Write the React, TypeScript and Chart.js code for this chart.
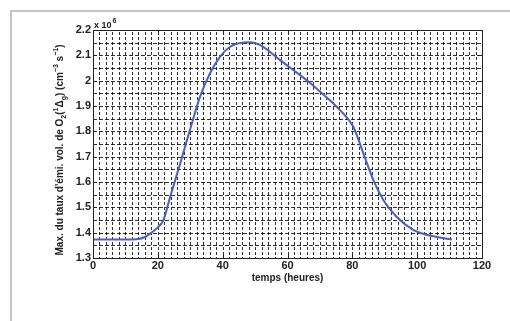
import React, { useEffect, useRef } from "react";
import { Chart, registerables } from "chart.js";

Chart.register(...registerables);

// time in hours
const times = [0, 5, 10, 14, 16, 17.6, 19.5, 21.7, 23.8, 26.9, 29.9, 33.0, 36.1, 39.2, 42.3, 46.4, 48.5, 51.5, 57.7, 61.8, 66.5, 70.1, 76.2, 80.3, 83.4, 86.5, 89.6, 93.7, 98.9, 102.5, 106.1, 110.7];
// max emission rate (x 10^6 cm^-3 s^-1)
const emission = [1.373, 1.373, 1.373, 1.375, 1.383, 1.396, 1.415, 1.449, 1.541, 1.673, 1.805, 1.936, 2.029, 2.095, 2.134, 2.151, 2.152, 2.141, 2.081, 2.042, 1.996, 1.956, 1.884, 1.818, 1.713, 1.607, 1.528, 1.462, 1.41, 1.393, 1.383, 1.373];

const xTickValues = [0, 20, 40, 60, 80, 100, 120];
const yTickValues = [1.3, 1.4, 1.5, 1.6, 1.7, 1.8, 1.9, 2.0, 2.1, 2.2];

const xTitle = "temps (heures)";
const yTitleParts: [string, string][] = [
  ["Max. du taux d'émi. vol. de O", "n"],
  ["2", "sub"],
  ["(", "n"],
  ["1", "sup"],
  ["Δ", "n"],
  ["g", "sub"],
  [") (cm", "n"],
  ["−3", "sup"],
  [" s", "n"],
  ["−1", "sup"],
  [")", "n"],
];

const FONT = "'Liberation Sans', Arial, sans-serif";

const decorPlugin = {
  id: "decor",
  beforeDatasetsDraw(chart: any) {
    const { ctx, chartArea: a, scales } = chart;
    const xs = scales.x;
    const ys = scales.y;
    ctx.save();
    ctx.beginPath();
    ctx.rect(a.left, a.top, a.right - a.left, a.bottom - a.top);
    ctx.clip();
    ctx.lineWidth = 1;
    ctx.strokeStyle = "rgba(10,10,10,0.85)";
    // vertical minor grid (every 2 h)
    ctx.setLineDash([3, 2]);
    for (let t = 2; t < 120; t += 2) {
      const px = Math.round(xs.getPixelForValue(t)) + 0.5;
      ctx.beginPath();
      ctx.moveTo(px, a.top + 2);
      ctx.lineTo(px, a.bottom);
      ctx.stroke();
    }
    // horizontal grid (every 0.05)
    ctx.setLineDash([4, 2]);
    for (let k = 1; k < 18; k++) {
      const v = 1.3 + k * 0.05;
      const py = Math.round(ys.getPixelForValue(v)) + 0.5;
      ctx.beginPath();
      ctx.moveTo(a.left, py);
      ctx.lineTo(a.right, py);
      ctx.stroke();
    }
    ctx.restore();
  },
  afterDatasetsDraw(chart: any) {
    const { ctx, chartArea: a, scales } = chart;
    const xs = scales.x;
    const ys = scales.y;
    ctx.save();
    ctx.setLineDash([]);
    ctx.strokeStyle = "#222";
    ctx.lineWidth = 1;
    ctx.strokeRect(Math.round(a.left) + 0.5, Math.round(a.top) + 0.5, Math.round(a.right - a.left), Math.round(a.bottom - a.top));
    // inside ticks
    const tl = 4;
    xTickValues.forEach((t) => {
      const px = Math.round(xs.getPixelForValue(t)) + 0.5;
      ctx.beginPath();
      ctx.moveTo(px, a.bottom);
      ctx.lineTo(px, a.bottom - tl);
      ctx.moveTo(px, a.top);
      ctx.lineTo(px, a.top + tl);
      ctx.stroke();
    });
    yTickValues.forEach((v) => {
      const py = Math.round(ys.getPixelForValue(v)) + 0.5;
      ctx.beginPath();
      ctx.moveTo(a.left, py);
      ctx.lineTo(a.left + tl, py);
      ctx.moveTo(a.right, py);
      ctx.lineTo(a.right - tl, py);
      ctx.stroke();
    });
    // exponent label
    ctx.fillStyle = "#222";
    ctx.textBaseline = "alphabetic";
    ctx.textAlign = "left";
    ctx.font = `bold 9px ${FONT}`;
    ctx.fillText("x 10", a.left + 1, a.top - 2);
    const w = ctx.measureText("x 10").width;
    ctx.font = `bold 7px ${FONT}`;
    ctx.fillText("6", a.left + 1 + w + 1, a.top - 7);
    // x title
    ctx.font = `bold 10px ${FONT}`;
    ctx.textAlign = "center";
    ctx.fillText(xTitle, (a.left + a.right) / 2, a.bottom + 23);
    // y title (rotated, with sub/superscripts)
    const big = `bold 10px ${FONT}`;
    const small = `bold 7px ${FONT}`;
    let total = 0;
    yTitleParts.forEach(([s, k]) => {
      ctx.font = k === "n" ? big : small;
      total += ctx.measureText(s).width;
    });
    ctx.translate(63, (a.top + a.bottom) / 2 + 6);
    ctx.rotate(-Math.PI / 2);
    ctx.textAlign = "left";
    let x = -total / 2;
    yTitleParts.forEach(([s, k]) => {
      ctx.font = k === "n" ? big : small;
      const dy = k === "sub" ? 3 : k === "sup" ? -5 : 0;
      ctx.fillText(s, x, dy);
      x += ctx.measureText(s).width;
    });
    ctx.restore();
  },
};

export default function App() {
  const ref = useRef<HTMLCanvasElement | null>(null);
  useEffect(() => {
    if (!ref.current) return;
    const chart = new Chart(ref.current, {
      type: "line",
      data: {
        datasets: [
          {
            data: times.map((t, i) => ({ x: t, y: emission[i] })),
            borderColor: "#4a60c2",
            borderWidth: 2,
            pointRadius: 0,
            fill: false,
            tension: 0.4,
            cubicInterpolationMode: "monotone",
          },
        ],
      },
      options: {
        animation: false,
        responsive: false,
        devicePixelRatio: 1,
        layout: { padding: { top: 30, right: 28, left: 0, bottom: 0 } },
        plugins: { legend: { display: false }, tooltip: { enabled: false } },
        scales: {
          x: {
            type: "linear",
            min: 0,
            max: 120,
            afterBuildTicks: (s: any) => {
              s.ticks = xTickValues.map((v) => ({ value: v }));
            },
            ticks: { color: "#222", font: { family: FONT, size: 11, weight: "bold" }, padding: 1, maxRotation: 0 },
            grid: { display: false, drawTicks: false },
            border: { display: false },
            afterFit: (s: any) => {
              s.height = 63;
            },
          },
          y: {
            type: "linear",
            min: 1.3,
            max: 2.2,
            afterBuildTicks: (s: any) => {
              s.ticks = yTickValues.map((v) => ({ value: v }));
            },
            ticks: {
              color: "#222",
              font: { family: FONT, size: 11, weight: "bold" },
              padding: 2,
              callback: (v: any) => String(Number(Number(v).toFixed(1))),
            },
            grid: { display: false, drawTicks: false },
            border: { display: false },
            afterFit: (s: any) => {
              s.width = 93;
            },
          },
        },
      } as any,
      plugins: [decorPlugin],
    });
    return () => chart.destroy();
  }, []);
  return (
    <div style={{ position: "fixed", left: 0, top: 0, width: 510, height: 321, background: "#fff" }}>
      <div style={{ position: "absolute", left: 10, top: 10, right: 0, height: 2, background: "#c4c4c4" }} />
      <div style={{ position: "absolute", left: 10, top: 10, bottom: 0, width: 2, background: "#c4c4c4" }} />
      <canvas ref={ref} width={510} height={321} style={{ position: "absolute", left: 0, top: 0 }} />
    </div>
  );
}
